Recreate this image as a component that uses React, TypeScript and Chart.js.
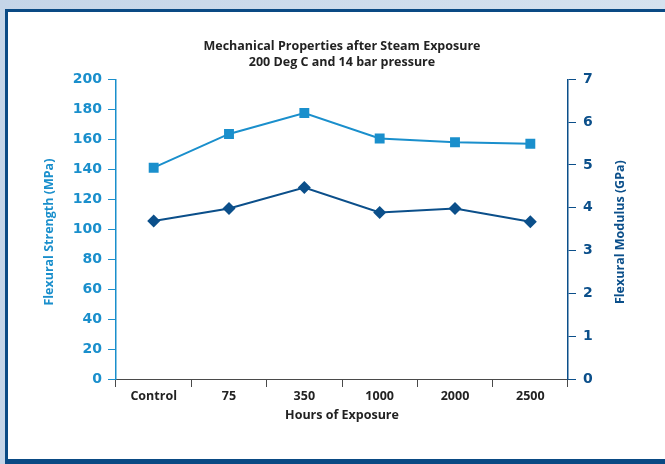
import React, { useEffect, useRef } from 'react';
import { Chart, registerables } from 'chart.js';

Chart.register(...registerables);

const categories = ['Control', '75', '350', '1000', '2000', '2500'];
const strengthMPa = [141, 163.5, 177.5, 160.5, 158, 157];
const modulusGPa = [3.69, 3.98, 4.47, 3.89, 3.98, 3.67];
const leftTickValues = [0, 20, 40, 60, 80, 100, 120, 140, 160, 180, 200];
const rightTickValues = [0, 1, 2, 3, 4, 5, 6, 7];
const titleLines = ['Mechanical Properties after Steam Exposure', '200 Deg C and 14 bar pressure'];
const xTitle = 'Hours of Exposure';
const leftTitle = 'Flexural Strength (MPa)';
const rightTitle = 'Flexural Modulus (GPa)';

const LIGHT = '#1a8fcc';
const DARK = '#0b4f8a';
const FRAME = '#0a4a84';
const GREY = '#4a4a4a';
const TEXT = '#222222';

export default function App() {
  const ref = useRef<HTMLCanvasElement | null>(null);

  useEffect(() => {
    if (!ref.current) return;
    const frame = {
      id: 'frame',
      beforeDraw(chart: any) {
        const ctx = chart.ctx;
        const w = chart.width;
        const h = chart.height;
        ctx.save();
        const g = ctx.createLinearGradient(0, 0, w, 0);
        g.addColorStop(0, '#c5d5e8');
        g.addColorStop(1, '#d5e2ef');
        ctx.fillStyle = g;
        ctx.fillRect(0, 0, w, h);
        ctx.fillStyle = '#ffffff';
        ctx.fillRect(5, 9, w - 5, h - 9);
        ctx.fillStyle = FRAME;
        ctx.fillRect(5, 9, 3, h - 9);
        ctx.fillRect(5, 9, w - 5, 3);
        ctx.fillRect(5, h - 5, w - 5, 5);
        ctx.restore();
      },
    };
    const yTitles = {
      id: 'yTitles',
      afterDraw(chart: any) {
        const ctx = chart.ctx;
        const area = chart.chartArea;
        const cy = (area.top + area.bottom) / 2 + 3;
        ctx.save();
        ctx.font = 'bold 12.5px "Open Sans"';
        ctx.textAlign = 'center';
        ctx.textBaseline = 'middle';
        ctx.fillStyle = LIGHT;
        ctx.translate(49, cy);
        ctx.rotate(-Math.PI / 2);
        ctx.fillText(leftTitle, 0, 0);
        ctx.restore();
        ctx.save();
        ctx.font = 'bold 12.5px "Open Sans"';
        ctx.textAlign = 'center';
        ctx.textBaseline = 'middle';
        ctx.fillStyle = DARK;
        ctx.translate(620, cy);
        ctx.rotate(-Math.PI / 2);
        ctx.fillText(rightTitle, 0, 0);
        ctx.restore();
      },
    };
    const chart = new Chart(ref.current, {
      type: 'line',
      data: {
        labels: categories,
        datasets: [
          {
            label: leftTitle,
            data: strengthMPa,
            yAxisID: 'y',
            borderColor: LIGHT,
            backgroundColor: LIGHT,
            borderWidth: 2,
            pointStyle: 'rect',
            pointRadius: 7,
            pointBorderWidth: 0,
          },
          {
            label: rightTitle,
            data: modulusGPa,
            yAxisID: 'y1',
            borderColor: DARK,
            backgroundColor: DARK,
            borderWidth: 2,
            pointStyle: 'rectRot',
            pointRadius: 6.5,
            pointBorderWidth: 0,
          },
        ],
      },
      options: {
        responsive: false,
        animation: false,
        layout: { padding: { left: 0, right: 0, top: 0, bottom: 0 } },
        plugins: {
          legend: { display: false },
          tooltip: { enabled: false },
          title: {
            display: true,
            fullSize: false,
            text: titleLines,
            color: TEXT,
            font: { family: '"Open Sans"', size: 12.5, weight: 'bold', lineHeight: 1.25 },
            padding: { top: 38.5, bottom: 9.5 },
          },
        },
        scales: {
          x: {
            type: 'category',
            offset: true,
            afterFit: (s: any) => { s.height = 85; },
            border: { color: GREY, width: 1 },
            grid: { offset: true, drawOnChartArea: false, tickLength: 8, tickColor: GREY },
            ticks: {
              color: TEXT,
              font: { family: '"Open Sans"', size: 12.5, weight: 'bold' },
              padding: 2,
              maxRotation: 0,
            },
            title: {
              display: true,
              text: xTitle,
              color: TEXT,
              font: { family: '"Open Sans"', size: 12.5, weight: 'bold' },
              padding: { top: 0, bottom: 41 },
            },
          },
          y: {
            position: 'left',
            min: 0,
            max: 200,
            afterFit: (s: any) => { s.width = 116; },
            afterBuildTicks: (s: any) => { s.ticks = leftTickValues.map((v) => ({ value: v })); },
            border: { color: LIGHT, width: 1.5 },
            grid: { drawOnChartArea: false, tickLength: 8, tickColor: LIGHT },
            ticks: {
              color: LIGHT,
              font: { family: '"DejaVu Sans"', size: 14, weight: 'bold' },
              padding: 6,
            },
          },
          y1: {
            position: 'right',
            min: 0,
            max: 7,
            afterFit: (s: any) => { s.width = 97; },
            afterBuildTicks: (s: any) => { s.ticks = rightTickValues.map((v) => ({ value: v })); },
            border: { color: DARK, width: 1.5 },
            grid: { drawOnChartArea: false, tickLength: 8, tickColor: DARK },
            ticks: {
              color: DARK,
              font: { family: '"DejaVu Sans"', size: 14, weight: 'bold' },
              padding: 7,
            },
          },
        },
      },
      plugins: [frame, yTitles],
    } as any);
    return () => chart.destroy();
  }, []);

  return (
    <div style={{ position: 'fixed', left: 0, top: 0, width: 665, height: 464, overflow: 'hidden' }}>
      <canvas
        ref={ref}
        width={665}
        height={464}
        style={{ display: 'block', width: 665, height: 464 }}
      />
    </div>
  );
}
